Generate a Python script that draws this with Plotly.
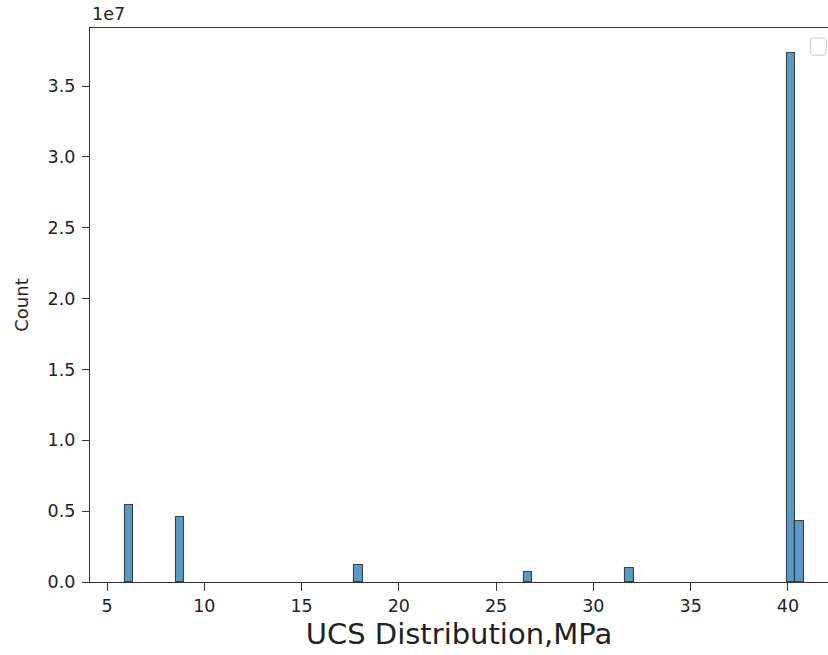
import plotly.graph_objects as go

# Histogram data (nonzero bins only)
bin_width = 0.436
bin_left = [5.925, 8.541, 17.697, 26.417, 31.649, 39.933, 40.369]
counts = [5.43e6, 4.61e6, 1.20e6, 0.68e6, 1.00e6, 3.735e7, 4.30e6]
x_ticks = [5, 10, 15, 20, 25, 30, 35, 40]
y_ticks = [0, 0.5e7, 1.0e7, 1.5e7, 2.0e7, 2.5e7, 3.0e7, 3.5e7]
y_tick_labels = ["0.0", "0.5", "1.0", "1.5", "2.0", "2.5", "3.0", "3.5"]

centers = [b + bin_width / 2 for b in bin_left]

fig = go.Figure()
fig.add_trace(go.Bar(
    x=centers, y=counts, width=bin_width,
    marker=dict(color="#5799c7", line=dict(color="rgba(40,40,40,0.85)", width=1.1)),
    showlegend=False,
))

font_family = "DejaVu Sans"
fig.update_layout(
    width=828, height=655,
    margin=dict(l=90, r=0, t=28, b=73),
    plot_bgcolor="white", paper_bgcolor="white",
    font=dict(family=font_family, color="#222", size=17.5),
    bargap=0,
    xaxis=dict(
        range=[4.126, 42.06],
        tickvals=x_ticks,
        ticks="outside", ticklen=8, tickwidth=1.3, tickcolor="#333",
        showline=True, linecolor="#333", linewidth=1.3, mirror=True,
        showgrid=False, zeroline=False,
        tickfont=dict(size=17.5),
        title=dict(text="UCS Distribution,MPa", font=dict(size=29), standoff=8),
    ),
    yaxis=dict(
        range=[0, 3.91e7],
        tickvals=y_ticks, ticktext=y_tick_labels,
        ticks="outside", ticklen=7, tickwidth=1.3, tickcolor="#333",
        showline=True, linecolor="#333", linewidth=1.3, mirror=False,
        showgrid=False, zeroline=False,
        tickfont=dict(size=17.5),
        ticklabelstandoff=3,
        title=dict(text="Count", font=dict(size=18), standoff=14),
    ),
    annotations=[dict(
        text="1e7", xref="paper", yref="paper", x=0.0, y=1.0,
        xanchor="left", yanchor="bottom", showarrow=False,
        font=dict(size=17.5, family=font_family, color="#222"), yshift=2,
    )],
    shapes=[dict(
        type="path", xref="paper", yref="paper",
        path="M 0.9800 0.982 L 0.9935 0.982 Q 0.9976 0.982 0.9976 0.976 L 0.9976 0.957 Q 0.9976 0.951 0.9935 0.951 L 0.9800 0.951 Q 0.9759 0.951 0.9759 0.957 L 0.9759 0.976 Q 0.9759 0.982 0.9800 0.982 Z",
        line=dict(color="#d6d6d6", width=1.3), fillcolor="white",
    )],
)

fig.write_html("out.html")
